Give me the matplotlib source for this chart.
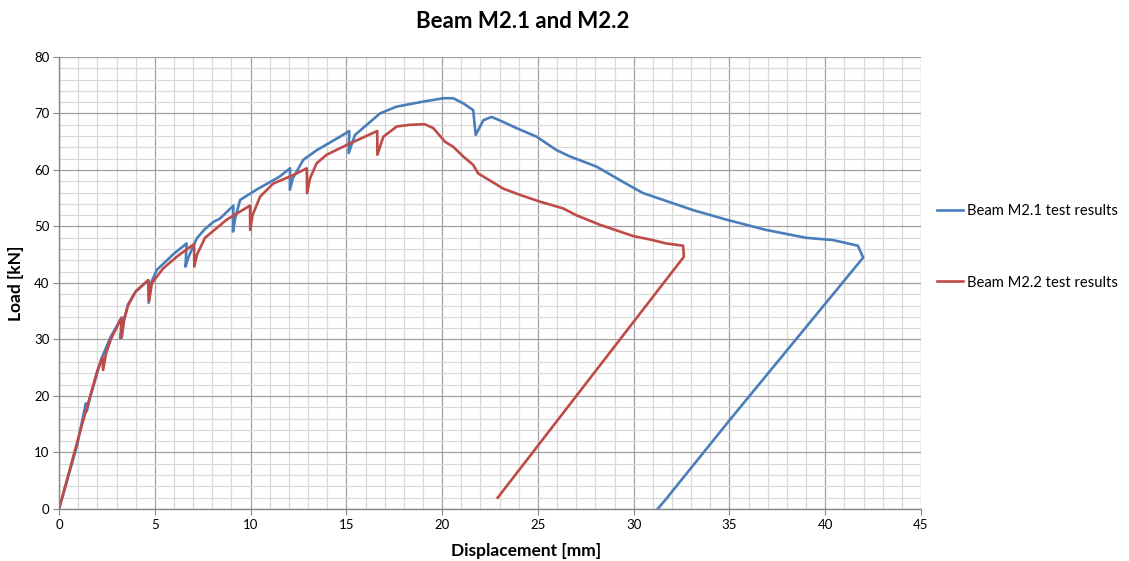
import matplotlib.pyplot as plt
from matplotlib.ticker import MultipleLocator

plt.rcParams['font.family'] = ['Lato', 'DejaVu Sans']

# Beam M2.1 (displacement mm, load kN)
m21_disp = [0, 0.97, 1.0, 1.4, 1.45, 1.6, 2.2, 2.7, 3.27, 3.2, 3.35, 3.6, 4.0, 4.66, 4.68,
            4.8, 5.1, 6.0, 6.66, 6.6, 6.75, 7.0, 7.19, 7.6, 8.05, 8.4, 9.1, 9.08, 9.2,
            9.45, 10.3, 11.5, 12.06, 12.05, 12.2, 12.75, 13.45, 14.67, 15.15, 15.12,
            15.45, 16.75, 17.6, 19.0, 20.06, 20.58, 21.1, 21.62, 21.75, 22.15, 22.58,
            23.19, 23.89, 24.93, 25.98, 26.67, 28.06, 29.8, 30.5, 33.1, 34.85, 36.9,
            39.0, 40.4, 41.7, 41.98, 35.0, 32.1, 31.7, 31.25]
m21_load = [0, 11.6, 12.3, 18.7, 17.3, 19.5, 26.5, 30.5, 33.9, 30.2, 33.0, 36.2, 38.5,
            40.5, 36.5, 40.0, 42.3, 45.2, 47.0, 42.9, 44.5, 46.5, 47.9, 49.5, 50.8,
            51.4, 53.7, 49.1, 51.5, 54.7, 56.5, 58.8, 60.3, 56.5, 58.5, 61.8, 63.5,
            65.9, 66.9, 63.0, 66.2, 70.0, 71.2, 72.1, 72.7, 72.7, 71.8, 70.6, 66.2,
            68.8, 69.4, 68.5, 67.4, 65.9, 63.5, 62.4, 60.6, 57.2, 55.9, 52.9, 51.2,
            49.4, 48.0, 47.6, 46.6, 44.5, 15.7, 3.5, 1.8, 0.0]

# Beam M2.2
m22_disp = [0, 1.0, 2.0, 2.26, 2.3, 2.45, 2.7, 3.25, 3.27, 3.4, 3.6, 4.0, 4.66, 4.7,
            4.85, 5.44, 6.2, 7.05, 7.06, 7.2, 7.62, 8.75, 9.97, 9.98, 10.1, 10.5,
            11.18, 12.23, 12.93, 12.95, 13.1, 13.45, 13.97, 15.0, 16.61, 16.62, 16.93,
            17.63, 18.32, 19.1, 19.54, 20.15, 20.58, 21.1, 21.62, 21.88, 23.19, 24.06,
            25.1, 26.32, 27.0, 28.24, 29.98, 30.85, 31.7, 32.58, 32.62, 22.9]
m22_load = [0, 12.5, 24.5, 26.8, 24.6, 27.5, 30.0, 33.8, 30.3, 33.5, 36.0, 38.5, 40.5,
            36.8, 40.0, 42.6, 44.8, 46.9, 42.9, 45.0, 48.0, 51.2, 53.7, 49.4, 52.0,
            55.3, 57.6, 59.1, 60.3, 55.9, 58.5, 61.2, 62.7, 64.4, 66.9, 62.7, 65.9,
            67.7, 68.0, 68.1, 67.4, 65.0, 64.1, 62.4, 60.9, 59.4, 56.7, 55.6, 54.4,
            53.2, 52.0, 50.3, 48.3, 47.7, 47.0, 46.6, 44.65, 2.0]

fig = plt.figure(figsize=(11.29, 5.61), dpi=100)
ax = fig.add_axes([0.0523, 0.0927, 0.7635, 0.8057])

ax.plot(m21_disp, m21_load, color='#4a7ebb', lw=1.9, label='Beam M2.1 test results',
        solid_joinstyle='round')
ax.plot(m22_disp, m22_load, color='#be4b48', lw=1.9, label='Beam M2.2 test results',
        solid_joinstyle='round')

ax.set_xlim(0, 45)
ax.set_ylim(0, 80)
ax.xaxis.set_major_locator(MultipleLocator(5))
ax.xaxis.set_minor_locator(MultipleLocator(1))
ax.yaxis.set_major_locator(MultipleLocator(10))
ax.yaxis.set_minor_locator(MultipleLocator(2))
ax.grid(which='major', color='#a0a0a0', lw=0.9)
ax.grid(which='minor', color='#d9d9d9', lw=0.9)
ax.set_axisbelow(True)

for s in ['top', 'right']:
    ax.spines[s].set_visible(False)
for s in ['left', 'bottom']:
    ax.spines[s].set_color('#868686')
    ax.spines[s].set_linewidth(1.0)
ax.tick_params(which='major', length=4, color='#868686', labelsize=9.5, pad=3)
ax.tick_params(which='minor', length=0)

fig.text(0.463, 0.962, 'Beam M2.1 and M2.2', fontsize=16, fontweight='bold',
         ha='center', va='center')
fig.text(0.466, 0.018, 'Displacement [mm]', fontsize=12.5, fontweight='bold',
         ha='center', va='center')
ax.set_ylabel('Load [kN]', fontsize=12.5, fontweight='bold', labelpad=7)

ax.legend(loc='center left', bbox_to_anchor=(1.0186, 0.58), frameon=False,
          borderpad=0, borderaxespad=0, fontsize=10.6, handlelength=1.75,
          handletextpad=0.27, labelspacing=3.9)

fig.savefig('out.png', dpi=100)
